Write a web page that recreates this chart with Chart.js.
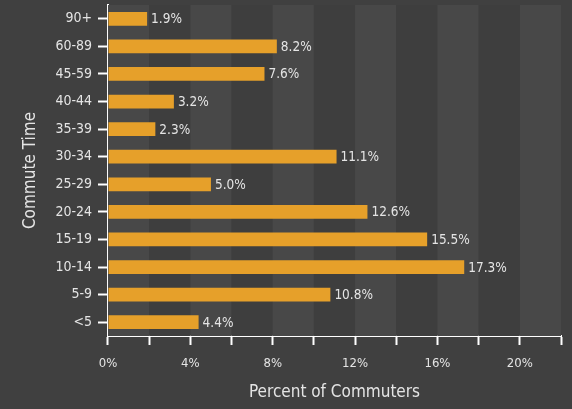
<!DOCTYPE html>
<html>
<head>
<meta charset="utf-8">
<script src="https://cdn.jsdelivr.net/npm/chart.js@4/dist/chart.umd.min.js"></script>
<style>
  html, body { margin: 0; padding: 0; background: #404040; }
  #wrap { width: 572px; height: 409px; }
</style>
</head>
<body>
<div id="wrap"><canvas id="commute"></canvas></div>
<script>
var categories = ['90+', '60-89', '45-59', '40-44', '35-39', '30-34', '25-29', '20-24', '15-19', '10-14', '5-9', '<5'];
var percents = [1.9, 8.2, 7.6, 3.2, 2.3, 11.1, 5.0, 12.6, 15.5, 17.3, 10.8, 4.4];
var xTickLabels = ['0%', '4%', '8%', '12%', '16%', '20%'];

var fontFam = '"DejaVu Sans", sans-serif';
var narrow = 'normal condensed';   // goes into the weight slot -> font-stretch
var textCol = '#e4e4e4';

// alternating vertical bands every 2%
var bandsPlugin = {
    id: 'bands',
    beforeDatasetsDraw: function (chart) {
        var ctx = chart.ctx, x = chart.scales.x, area = chart.chartArea;
        ctx.save();
        for (var v = 0; v < 22; v += 2) {
            var x0 = x.getPixelForValue(v), x1 = x.getPixelForValue(v + 2);
            ctx.fillStyle = (v % 4 === 0) ? '#484848' : '#3e3e3e';
            ctx.fillRect(x0, area.top, x1 - x0, area.bottom - area.top);
        }
        ctx.restore();
    }
};

var valueLabels = {
    id: 'valueLabels',
    afterDatasetsDraw: function (chart) {
        var ctx = chart.ctx;
        var meta = chart.getDatasetMeta(0);
        ctx.save();
        ctx.font = narrow + ' 13.5px ' + fontFam;
        ctx.fillStyle = textCol;
        ctx.textBaseline = 'middle';
        meta.data.forEach(function (bar, i) {
            ctx.fillText(percents[i].toFixed(1) + '%', bar.x + 4, bar.y + 1);
        });
        ctx.restore();
    }
};

var commuteChart = new Chart(document.getElementById('commute').getContext('2d'), {
    type: 'bar',
    data: {
        labels: categories,
        datasets: [{
            data: percents,
            backgroundColor: '#e6a02a',
            barPercentage: 0.5,
            categoryPercentage: 1.0
        }]
    },
    plugins: [bandsPlugin, valueLabels],
    options: {
        indexAxis: 'y',
        responsive: true,
        maintainAspectRatio: false,
        animation: false,
        layout: { padding: { top: 5, right: 8, left: 16, bottom: 2 } },
        plugins: {
            legend: { display: false },
            tooltip: { enabled: false }
        },
        scales: {
            x: {
                min: 0,
                max: 22,
                ticks: {
                    stepSize: 2,
                    color: textCol,
                    font: { family: fontFam, size: 13, weight: narrow },
                    padding: 11,
                    maxRotation: 0,
                    autoSkip: false,
                    callback: function (v) { return v % 4 === 0 ? xTickLabels[v / 4] : ''; }
                },
                grid: { drawOnChartArea: false, color: '#ffffff', tickLength: 9, tickWidth: 2 },
                border: { color: '#ffffff', width: 2 },
                title: {
                    display: true,
                    text: 'Percent of Commuters',
                    color: textCol,
                    font: { family: fontFam, size: 17, weight: narrow },
                    padding: { top: 0 }
                }
            },
            y: {
                afterFit: function (s) { s.paddingTop = 0; s.paddingBottom = 0; },
                ticks: {
                    color: textCol,
                    font: { family: fontFam, size: 14, weight: narrow },
                    padding: 6
                },
                grid: { drawOnChartArea: false, color: '#ffffff', tickLength: 10, tickWidth: 2, offset: false },
                border: { color: '#ffffff', width: 2 },
                title: {
                    display: true,
                    text: 'Commute Time',
                    color: textCol,
                    font: { family: fontFam, size: 17, weight: narrow },
                    padding: { bottom: 9 }
                }
            }
        }
    }
});
</script>
</body>
</html>
